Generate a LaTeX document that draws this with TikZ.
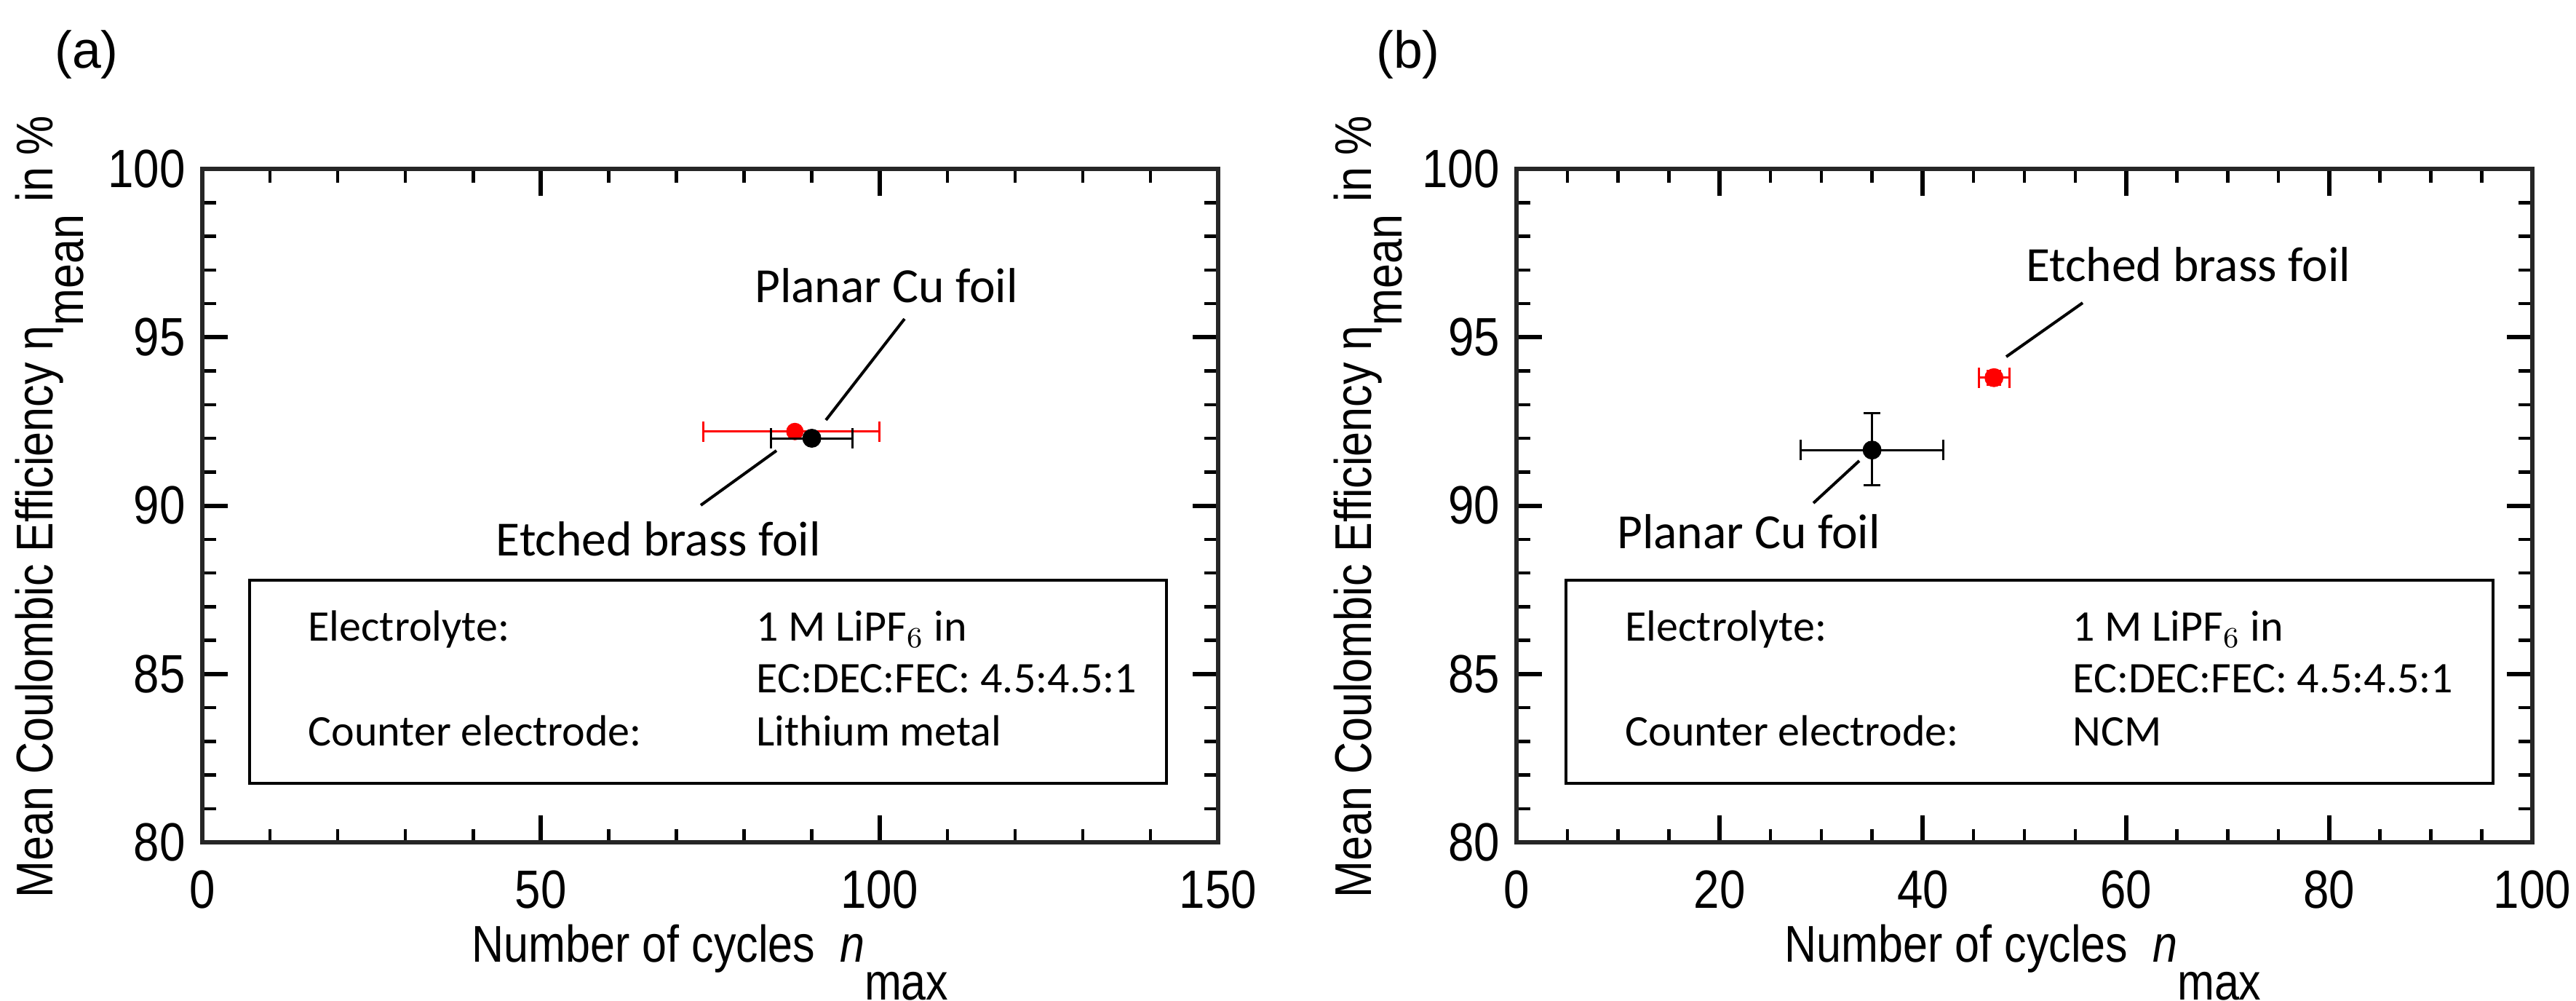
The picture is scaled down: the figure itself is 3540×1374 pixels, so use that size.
\documentclass[tikz,border=0pt]{standalone}
\usepackage{fontspec}
\setmainfont{Liberation Sans}
\newfontfamily\narrowf[FakeStretch=0.86]{Liberation Sans}
\newfontfamily\calib{Carlito}
\begin{document}
\begin{tikzpicture}[x=0.2pt,y=-0.2pt,
  tick/.style={font=\narrowf\fontsize{14.8}{16}\selectfont},
  axlab/.style={font=\narrowf\fontsize{14.2}{16}\selectfont},
  ann/.style={font=\calib\fontsize{13.5}{15}\selectfont},
  boxt/.style={font=\calib\fontsize{12}{14}\selectfont,anchor=base west},
  frame/.style={line width=1.2pt,draw=black!85},
  ebar/.style={line width=0.6pt},
  lead/.style={line width=0.8pt}]
\useasboundingbox (0,0) rectangle (3540,1374);
\node[font=\fontsize{14.3}{16}\selectfont] (la) at (119,75) {(a)};
\node[font=\fontsize{14.3}{16}\selectfont] (lb) at (1935,75) {(b)};
% ---------- panel a
\begin{scope}[shift={(278,1157)},x={(1396/150*0.2pt,0)},y={(0,925/20*0.2pt)}]
  \foreach \v in {10,20,...,140}{\draw[line width=0.9pt] (\v,0)--(\v,0.4) (\v,20)--(\v,19.6);}
  \foreach \v in {50,100}{\draw[line width=1.2pt] (\v,0)--(\v,0.8) (\v,20)--(\v,19.2);}
  \foreach \v in {1,...,19}{\draw[line width=0.9pt] (0,\v)--(2.0,\v) (150,\v)--(148,\v);}
  \foreach \v in {5,10,15}{\draw[line width=1.2pt] (0,\v)--(3.8,\v) (150,\v)--(146.2,\v);}
  \draw[frame] (0,0) rectangle (150,20);
  \foreach \v in {0,50,100,150}{\node[tick] at (\v,-1.4) {\v};}
  \foreach \v/\t in {0/80,5/85,10/90,15/95,20/100}{\node[tick,anchor=east] at (-0.6,\v) {\t};}
  % data
  \draw[ebar,red] (74,12.2)--(100,12.2) (74,11.9)--(74,12.5) (100,11.9)--(100,12.5);
  \fill[red] (87.5,12.2) circle[radius=12*0.2pt];
  \draw[ebar] (84,12)--(96,12) (84,11.7)--(84,12.3) (96,11.7)--(96,12.3);
  \fill (90,12) circle[radius=13*0.2pt];
\end{scope}
\node[ann] (pa) at (1218,392) {Planar Cu foil};
\coordinate (pa1) at (1243,438); \coordinate (pa2) at (1135,577);
\draw[lead] (pa1)--(pa2);
\node[ann] (ea) at (905,740) {Etched brass foil};
\coordinate (ea1) at (963,694); \coordinate (ea2) at (1067,619);
\draw[lead] (ea1)--(ea2);
\draw[line width=0.8pt] (343,797) rectangle (1603,1076);
\node[boxt] at (406,880) {Electrolyte:};
\node[boxt] at (1022,880) {1 M LiPF$_6$ in};
\node[boxt] at (1022,951) {EC:DEC:FEC: 4.5:4.5:1};
\node[boxt] at (406,1024) {Counter electrode:};
\node[boxt] at (1022,1024) {Lithium metal};
\node[axlab] (xa) at (976,1322) {Number of cycles~~\textit{n}\raisebox{-1.4ex}{max}};
\node[axlab,rotate=90] (ya) at (68,696) {Mean Coulombic Efficiency η\raisebox{-1.1ex}{mean}~in~\%};
% ---------- panel b
\begin{scope}[shift={(2084,1157)},x={(1396/100*0.2pt,0)},y={(0,925/20*0.2pt)}]
  \foreach \v in {5,10,...,95}{\draw[line width=0.9pt] (\v,0)--(\v,0.4) (\v,20)--(\v,19.6);}
  \foreach \v in {20,40,60,80}{\draw[line width=1.2pt] (\v,0)--(\v,0.8) (\v,20)--(\v,19.2);}
  \foreach \v in {1,...,19}{\draw[line width=0.9pt] (0,\v)--(1.33,\v) (100,\v)--(98.67,\v);}
  \foreach \v in {5,10,15}{\draw[line width=1.2pt] (0,\v)--(2.5,\v) (100,\v)--(97.5,\v);}
  \draw[frame] (0,0) rectangle (100,20);
  \foreach \v in {0,20,40,60,80,100}{\node[tick] at (\v,-1.4) {\v};}
  \foreach \v/\t in {0/80,5/85,10/90,15/95,20/100}{\node[tick,anchor=east] at (-0.4,\v) {\t};}
  \draw[ebar] (28,11.65)--(42,11.65) (28,11.35)--(28,11.95) (42,11.35)--(42,11.95)
              (35,10.6)--(35,12.75) (34.2,10.6)--(35.8,10.6) (34.2,12.75)--(35.8,12.75);
  \fill (35,11.65) circle[radius=13*0.2pt];
  \draw[ebar,red] (45.5,13.8)--(48.5,13.8) (45.5,13.5)--(45.5,14.1) (48.5,13.5)--(48.5,14.1)
              (47,13.6)--(47,14.0) (46.3,13.6)--(47.7,13.6) (46.3,14.0)--(47.7,14.0);
  \fill[red] (47,13.8) circle[radius=13*0.2pt];
\end{scope}
\node[ann] (eb) at (3007,363) {Etched brass foil};
\coordinate (eb1) at (2862,416); \coordinate (eb2) at (2757,490);
\draw[lead] (eb1)--(eb2);
\node[ann] (pb) at (2403,730) {Planar Cu foil};
\coordinate (pb1) at (2492,691); \coordinate (pb2) at (2555,633);
\draw[lead] (pb1)--(pb2);
\draw[line width=0.8pt] (2152,797) rectangle (3426,1076);
\node[boxt] at (2216,880) {Electrolyte:};
\node[boxt] at (2831,880) {1 M LiPF$_6$ in};
\node[boxt] at (2831,951) {EC:DEC:FEC: 4.5:4.5:1};
\node[boxt] at (2216,1024) {Counter electrode:};
\node[boxt] at (2831,1024) {NCM};
\node[axlab] (xb) at (2780,1322) {Number of cycles~~\textit{n}\raisebox{-1.4ex}{max}};
\node[axlab,rotate=90] (yb) at (1880,696) {Mean Coulombic Efficiency η\raisebox{-1.1ex}{mean}~in~\%};
\end{tikzpicture}
\end{document}
